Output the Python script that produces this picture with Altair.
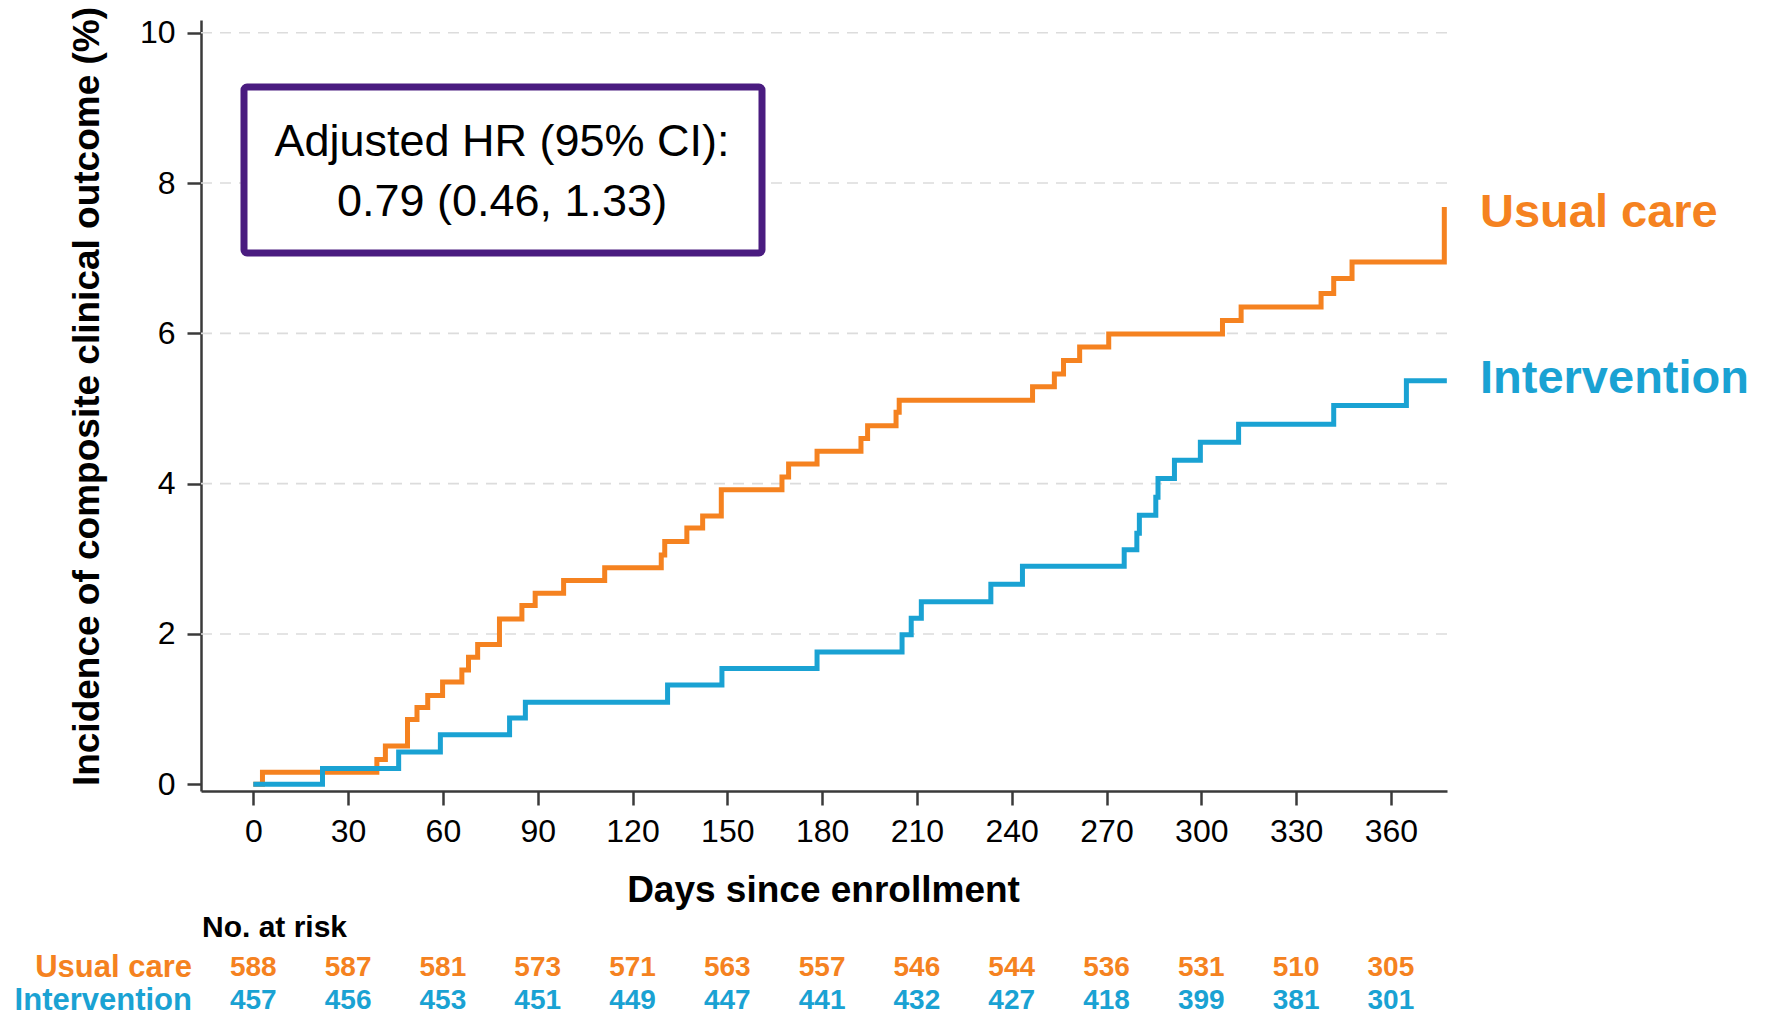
import altair as alt
import pandas as pd

# ---------------- data ----------------
uc_days = [0, 2.9, 39.1, 41.8, 48.8, 51.8, 55.2, 59.9, 66.0, 68.1, 71.0, 77.9, 85.0,
           89.2, 98.2, 111.2, 129.1, 130.2, 137.2, 142.2, 148.1, 167.3, 169.4, 178.4,
           192.3, 194.4, 203.4, 204.4, 246.6, 253.5, 256.4, 261.5, 270.7, 306.7, 312.6,
           337.9, 341.9, 347.7, 376.9]
uc_vals = [0, 0.16, 0.33, 0.51, 0.86, 1.02, 1.18, 1.36, 1.52, 1.69, 1.86, 2.20, 2.38,
           2.54, 2.71, 2.88, 3.05, 3.23, 3.41, 3.57, 3.92, 4.09, 4.26, 4.43,
           4.60, 4.77, 4.95, 5.11, 5.29, 5.46, 5.64, 5.82, 5.99, 6.17, 6.35,
           6.53, 6.73, 6.95, 7.68]

iv_days = [0, 21.9, 46.0, 59.2, 81.1, 86.1, 131.1, 148.3, 178.4, 205.3, 208.2, 211.4,
           233.4, 243.4, 275.6, 279.6, 280.4, 285.6, 286.3, 291.5, 299.7, 311.8, 341.9,
           364.9, 377.7]
iv_vals = [0, 0.21, 0.43, 0.66, 0.88, 1.09, 1.32, 1.54, 1.76, 1.99, 2.21, 2.43,
           2.66, 2.90, 3.12, 3.34, 3.58, 3.82, 4.07, 4.31, 4.55, 4.79, 5.04,
           5.37, 5.37]

risk_days = [0, 30, 60, 90, 120, 150, 180, 210, 240, 270, 300, 330, 360]
risk_uc = [588, 587, 581, 573, 571, 563, 557, 546, 544, 536, 531, 510, 305]
risk_iv = [457, 456, 453, 451, 449, 447, 441, 432, 427, 418, 399, 381, 301]

x_ticks = [0, 30, 60, 90, 120, 150, 180, 210, 240, 270, 300, 330, 360]
y_ticks = [0, 2, 4, 6, 8, 10]
grid_vals = [2, 4, 6, 8, 10]

hr_lines = ["Adjusted HR (95% CI):", "0.79 (0.46, 1.33)"]

# ---------------- styles ----------------
FONT = "Liberation Sans, Arial, Helvetica, sans-serif"
ORANGE = "#F58220"
BLUE = "#1AA2D3"
PURPLE = "#4A1C80"
AX = "#3a3a3a"

W, H = 1246, 771

xscale = alt.Scale(domain=[-16.55, 377.75], nice=False, zero=False)
yscale = alt.Scale(domain=[-0.09, 10.17], nice=False, zero=False)

x_axis = alt.Axis(values=x_ticks, format="d", title="Days since enrollment",
                  titleFont=FONT, titleFontSize=37, titleFontWeight="bold", titleColor="black",
                  titleX=622, titleY=99, titleAlign="center", titleBaseline="middle",
                  labelFont=FONT, labelFontSize=32, labelColor="black", labelPadding=11,
                  labelFlush=False, labelOverlap=False,
                  tickSize=14, tickWidth=2.5, tickColor=AX,
                  domainColor=AX, domainWidth=2.5, grid=False)
y_axis = alt.Axis(values=y_ticks, format="d", title="Incidence of composite clinical outcome (%)",
                  titleFont=FONT, titleFontSize=37, titleFontWeight="bold", titleColor="black",
                  titleX=-114, titleY=376, titleAngle=270, titleAlign="center", titleBaseline="middle",
                  labelFont=FONT, labelFontSize=32, labelColor="black", labelPadding=12,
                  labelFlush=False, labelOverlap=False,
                  tickSize=14, tickWidth=2.5, tickColor=AX,
                  domainColor=AX, domainWidth=2.5, grid=False)

uc_df = pd.DataFrame({"day": uc_days, "value": uc_vals})
iv_df = pd.DataFrame({"day": iv_days, "value": iv_vals})
grid_df = pd.DataFrame({"value": grid_vals})
risk_df = pd.DataFrame({"day": risk_days, "uc": risk_uc, "iv": risk_iv})

grid = alt.Chart(grid_df).mark_rule(color="#dcdcdc", strokeWidth=1.6, strokeDash=[11, 8]).encode(
    y=alt.Y("value:Q", scale=yscale, axis=y_axis)
)

uc_line = alt.Chart(uc_df).mark_line(interpolate="step-after", strokeWidth=5, color=ORANGE).encode(
    x=alt.X("day:Q", scale=xscale, axis=x_axis),
    y=alt.Y("value:Q", scale=yscale, axis=y_axis),
)
iv_line = alt.Chart(iv_df).mark_line(interpolate="step-after", strokeWidth=5, color=BLUE).encode(
    x=alt.X("day:Q", scale=xscale, axis=x_axis),
    y=alt.Y("value:Q", scale=yscale, axis=y_axis),
)

# HR box
box = alt.Chart(pd.DataFrame({"k": [0]})).mark_rect(
    fill="white", stroke=PURPLE, strokeWidth=7, cornerRadius=3
).encode(x=alt.value(43), x2=alt.value(561), y=alt.value(67), y2=alt.value(233))

hr1 = alt.Chart(pd.DataFrame({"t": [hr_lines[0]]})).mark_text(
    font=FONT, fontSize=45, color="black", align="center", baseline="alphabetic"
).encode(text="t:N", x=alt.value(301), y=alt.value(136))
hr2 = alt.Chart(pd.DataFrame({"t": [hr_lines[1]]})).mark_text(
    font=FONT, fontSize=45, color="black", align="center", baseline="alphabetic"
).encode(text="t:N", x=alt.value(301), y=alt.value(196))

# right-hand series labels
lab_uc = alt.Chart(pd.DataFrame({"t": ["Usual care"]})).mark_text(
    font=FONT, fontSize=47, fontWeight="bold", color=ORANGE, align="left", baseline="alphabetic"
).encode(text="t:N", x=alt.value(1279), y=alt.value(207))
lab_iv = alt.Chart(pd.DataFrame({"t": ["Intervention"]})).mark_text(
    font=FONT, fontSize=47, fontWeight="bold", color=BLUE, align="left", baseline="alphabetic"
).encode(text="t:N", x=alt.value(1279), y=alt.value(373))

# risk table
ROW_UC, ROW_IV = 948, 981
risk_title = alt.Chart(pd.DataFrame({"t": ["No. at risk"]})).mark_text(
    font=FONT, fontSize=30, fontWeight="bold", color="black", align="left", baseline="middle"
).encode(text="t:N", x=alt.value(1), y=alt.value(908))
risk_lab_uc = alt.Chart(pd.DataFrame({"t": ["Usual care"]})).mark_text(
    font=FONT, fontSize=31, fontWeight="bold", color=ORANGE, align="right", baseline="middle"
).encode(text="t:N", x=alt.value(-9), y=alt.value(ROW_UC))
risk_lab_iv = alt.Chart(pd.DataFrame({"t": ["Intervention"]})).mark_text(
    font=FONT, fontSize=31, fontWeight="bold", color=BLUE, align="right", baseline="middle"
).encode(text="t:N", x=alt.value(-9), y=alt.value(ROW_IV))
risk_uc_txt = alt.Chart(risk_df).mark_text(
    font=FONT, fontSize=28, fontWeight="bold", color=ORANGE, align="center", baseline="middle"
).encode(x=alt.X("day:Q", scale=xscale, axis=x_axis), y=alt.value(ROW_UC), text="uc:Q")
risk_iv_txt = alt.Chart(risk_df).mark_text(
    font=FONT, fontSize=28, fontWeight="bold", color=BLUE, align="center", baseline="middle"
).encode(x=alt.X("day:Q", scale=xscale, axis=x_axis), y=alt.value(ROW_IV), text="iv:Q")

chart = alt.layer(
    grid, uc_line, iv_line, box, hr1, hr2, lab_uc, lab_iv,
    risk_title, risk_lab_uc, risk_lab_iv, risk_uc_txt, risk_iv_txt
).properties(
    width=W, height=H,
    autosize=alt.AutoSizeParams(type="none"),
    padding={"left": 193, "top": 12, "right": 317, "bottom": 226},
    background="white",
).configure_view(strokeWidth=0)

chart.save("out.html", embed_options={"renderer": "svg", "actions": False})
